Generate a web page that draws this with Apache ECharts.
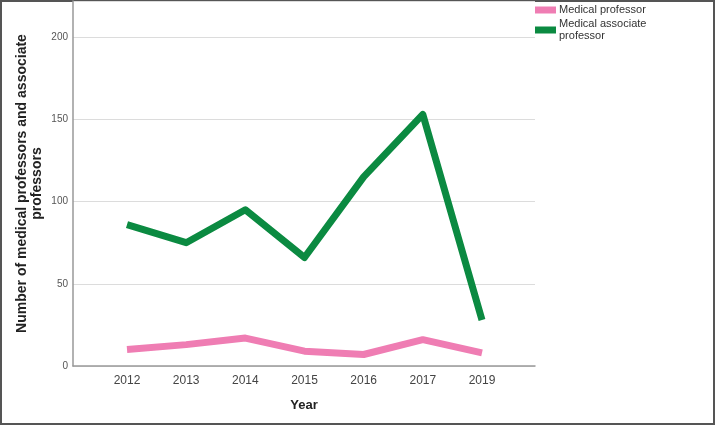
<!DOCTYPE html>
<html>
<head>
<meta charset="utf-8">
<script src="https://cdn.jsdelivr.net/npm/echarts@6/dist/echarts.min.js"></script>
<style>
  html, body { margin: 0; padding: 0; background: #fff; }
  #chart { width: 715px; height: 426px; }
</style>
</head>
<body>
<div id="chart"></div>
<script>
// data
var years = ['2012', '2013', '2014', '2015', '2016', '2017', '2019'];
var professor = [10, 13, 17, 9, 7, 16, 8];
var associateProfessor = [86, 75, 95, 66, 115, 153, 28];
var yTicks = [0, 50, 100, 150, 200];

var chart = echarts.init(document.getElementById('chart'));

var font = 'Liberation Sans, Arial, sans-serif';
var pink = '#ef7db3';
var green = '#0b8a41';

var option = {
    animation: false,
    textStyle: { fontFamily: font },
    legend: {
        orient: 'vertical',
        left: 535,
        top: 4,
        padding: 0,
        itemWidth: 21,
        itemHeight: 7,
        itemGap: 2,
        icon: 'rect',
        textStyle: { fontSize: 11, color: '#333', fontFamily: font, lineHeight: 12, padding: [0, 0, 0, -2] },
        data: ['Medical professor', 'Medical associate\nprofessor']
    },
    grid: [
        // frame with y axis, grid lines and x axis line
        { left: 73, right: 180, top: 1, bottom: 60 },
        // inner grid where the years sit
        { left: 127, right: 233, top: 1, bottom: 60 }
    ],
    xAxis: [
        {
            gridIndex: 0,
            type: 'value',
            min: 0, max: 1,
            axisLine: { show: true, lineStyle: { color: '#999', width: 1.5 } },
            axisTick: { show: false },
            axisLabel: { show: false },
            splitLine: { show: false },
            name: 'Year',
            nameLocation: 'middle',
            nameGap: 33,
            nameTextStyle: { fontSize: 13, fontWeight: 'bold', color: '#222', fontFamily: font }
        },
        {
            gridIndex: 1,
            type: 'category',
            data: years,
            boundaryGap: false,
            axisLine: { show: false },
            axisTick: { show: false },
            axisLabel: { fontSize: 12, color: '#444', margin: 9, fontFamily: font }
        }
    ],
    yAxis: [
        {
            gridIndex: 0,
            type: 'value',
            min: 0, max: 222, interval: 50,
            axisLine: { show: true, lineStyle: { color: '#999', width: 1.5 } },
            axisTick: { show: false },
            axisLabel: {
                fontSize: 10, color: '#555', margin: 5, fontFamily: font,
                formatter: function (v) { return yTicks.indexOf(v) >= 0 ? v : ''; }
            },
            splitLine: { show: true, lineStyle: { color: '#dcdcdc', width: 1 } },
            name: 'Number of medical professors and associate\nprofessors',
            nameLocation: 'middle',
            nameGap: 28,
            nameMoveOverlap: false,
            nameTextStyle: { fontSize: 14, fontWeight: 'bold', color: '#222', lineHeight: 15, fontFamily: font }
        },
        {
            gridIndex: 1,
            type: 'value',
            min: 0, max: 222,
            show: false
        }
    ],
    series: [
        {
            name: 'Medical professor',
            type: 'line',
            xAxisIndex: 1, yAxisIndex: 1,
            data: professor,
            showSymbol: false,
            symbol: 'none',
            itemStyle: { color: pink },
            lineStyle: { color: pink, width: 7, join: 'round' }
        },
        {
            name: 'Medical associate\nprofessor',
            type: 'line',
            xAxisIndex: 1, yAxisIndex: 1,
            data: associateProfessor,
            showSymbol: false,
            symbol: 'none',
            itemStyle: { color: green },
            lineStyle: { color: green, width: 7, join: 'round' }
        }
    ],
    graphic: [
        {
            type: 'rect',
            shape: { x: 1, y: 1, width: 713, height: 423 },
            style: { fill: 'none', stroke: '#555', lineWidth: 2 },
            silent: true
        }
    ]
};

chart.setOption(option);
</script>
</body>
</html>
